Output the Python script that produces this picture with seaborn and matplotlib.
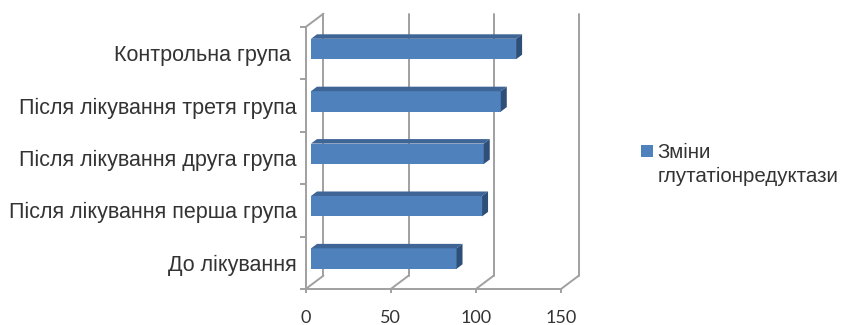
import matplotlib
matplotlib.use("Agg")
import matplotlib.pyplot as plt
import numpy as np
import pandas as pd
import seaborn as sns
from matplotlib.patches import Polygon, Patch, Rectangle
from matplotlib.lines import Line2D
from matplotlib.legend_handler import HandlerPatch

# Glutathione reductase changes by group
categories = [
    "Контрольна група ",
    "Після лікування третя група",
    "Після лікування друга група",
    "Після лікування перша група",
    "До лікування",
]
values = [120.5, 111.5, 101.5, 100.5, 85.5]
series_name = "Зміни\nглутатіонредуктази"
x_ticks = [0, 50, 100, 150]
x_tick_labels = ["0", "50", "100", "150"]

df = pd.DataFrame({"group": categories, "value": values})

sns.set_theme(style="white")
plt.rcParams["font.family"] = ["Liberation Sans", "DejaVu Sans"]

FACE = "#4F81BD"
TOP = "#3E6596"
SIDE = "#2E4F78"
GRID = "#A0A0A0"
TEXT = "#333333"
FS = 15.5
LEG_FS = 14.8

W, H, DPI = 846, 325, 100
fig = plt.figure(figsize=(W / DPI, H / DPI), dpi=DPI)
# front plane of the pseudo-3D box
ax_l, ax_b, ax_w, ax_h = 305.7, 36.0, 255.3, 262.0
ax = fig.add_axes([ax_l / W, ax_b / H, ax_w / W, ax_h / H])

sns.barplot(data=df, x="value", y="group", orient="h", color=FACE,
            saturation=1, width=0.39, ax=ax, zorder=3)
ax.set_xlim(0, 150)
ax.set_ylim(len(categories) - 0.5, -0.5)

kx = ax_w / 150.0
ky = ax_h / len(categories)


def px(dx, dy_up):
    """pixel offset -> data offset (y axis is inverted)"""
    return dx / kx, -dy_up / ky


bar_off = px(5.3, 4.2)
bar_depth = px(6.0, 4.5)
box_depth = px(17.7, 13.3)

# walls and floor
y_lo, y_hi = len(categories) - 0.5, -0.5
for t in x_ticks:
    ax.add_line(Line2D([t + box_depth[0]] * 2, [y_lo + box_depth[1], y_hi + box_depth[1]],
                       color=GRID, lw=1.4, clip_on=False, zorder=1))
    ax.add_line(Line2D([t, t + box_depth[0]], [y_lo, y_lo + box_depth[1]],
                       color=GRID, lw=1.4, clip_on=False, zorder=1))
ax.add_line(Line2D([0, box_depth[0]], [y_hi, y_hi + box_depth[1]],
                   color=GRID, lw=1.4, clip_on=False, zorder=1))

# extrude each bar: shift front face, add top and side faces
for p in ax.patches:
    x0, y0, w, h = p.get_x(), p.get_y(), p.get_width(), p.get_height()
    x0 += bar_off[0]
    y0 += bar_off[1]
    p.set_x(x0)
    p.set_y(y0)
    p.set_edgecolor("none")
    xr, yb = x0 + w, y0 + h
    dx, dy = bar_depth
    top = Polygon([(x0, y0), (xr, y0), (xr + dx, y0 + dy), (x0 + dx, y0 + dy)],
                  closed=True, facecolor=TOP, edgecolor="none", zorder=3, clip_on=False)
    side = Polygon([(xr, y0), (xr, yb), (xr + dx, yb + dy), (xr + dx, y0 + dy)],
                   closed=True, facecolor=SIDE, edgecolor="none", zorder=3, clip_on=False)
    ax.add_patch(top)
    ax.add_patch(side)

for s in ["top", "right"]:
    ax.spines[s].set_visible(False)
for s in ["left", "bottom"]:
    ax.spines[s].set_color(GRID)
    ax.spines[s].set_linewidth(1.4)

ax.set_xlabel("")
ax.set_ylabel("")
ax.set_xticks(x_ticks)
ax.set_xticklabels(x_tick_labels, fontfamily=["Lato", "DejaVu Sans"])
ax.set_yticks(range(len(categories)))
ax.set_yticklabels(categories)
ax.set_yticks(np.arange(-0.5, len(categories), 1.0), minor=True)
ax.tick_params(axis="x", length=3, width=1.4, color=GRID, direction="out",
               labelsize=13, labelcolor=TEXT, pad=12, bottom=True)
ax.tick_params(axis="y", which="major", length=0, labelsize=FS, labelcolor=TEXT, pad=6.3)
ax.tick_params(axis="y", which="minor", length=4.3, width=1.4, color=GRID,
               direction="out", left=True)
ax.grid(False)


def top_square(legend, orig_handle, xdescent, ydescent, width, height, fontsize):
    # square key aligned with the first line of a two-line label
    side = width
    return Rectangle((-xdescent, -ydescent + height - side + 0.12 * fontsize), side, side)


leg = fig.legend(handles=[Patch(facecolor=FACE, edgecolor="none", label=series_name)],
                 handler_map={Patch: HandlerPatch(patch_func=top_square)},
                 loc="upper left", bbox_to_anchor=(641 / W, 1 - 143 / H), frameon=False,
                 fontsize=LEG_FS, labelcolor=TEXT, handlelength=0.58, handleheight=2.35,
                 handletextpad=0.24, borderaxespad=0, borderpad=0)
leg.get_texts()[0].set_linespacing(1.32)

fig.savefig("out.png", dpi=DPI)
